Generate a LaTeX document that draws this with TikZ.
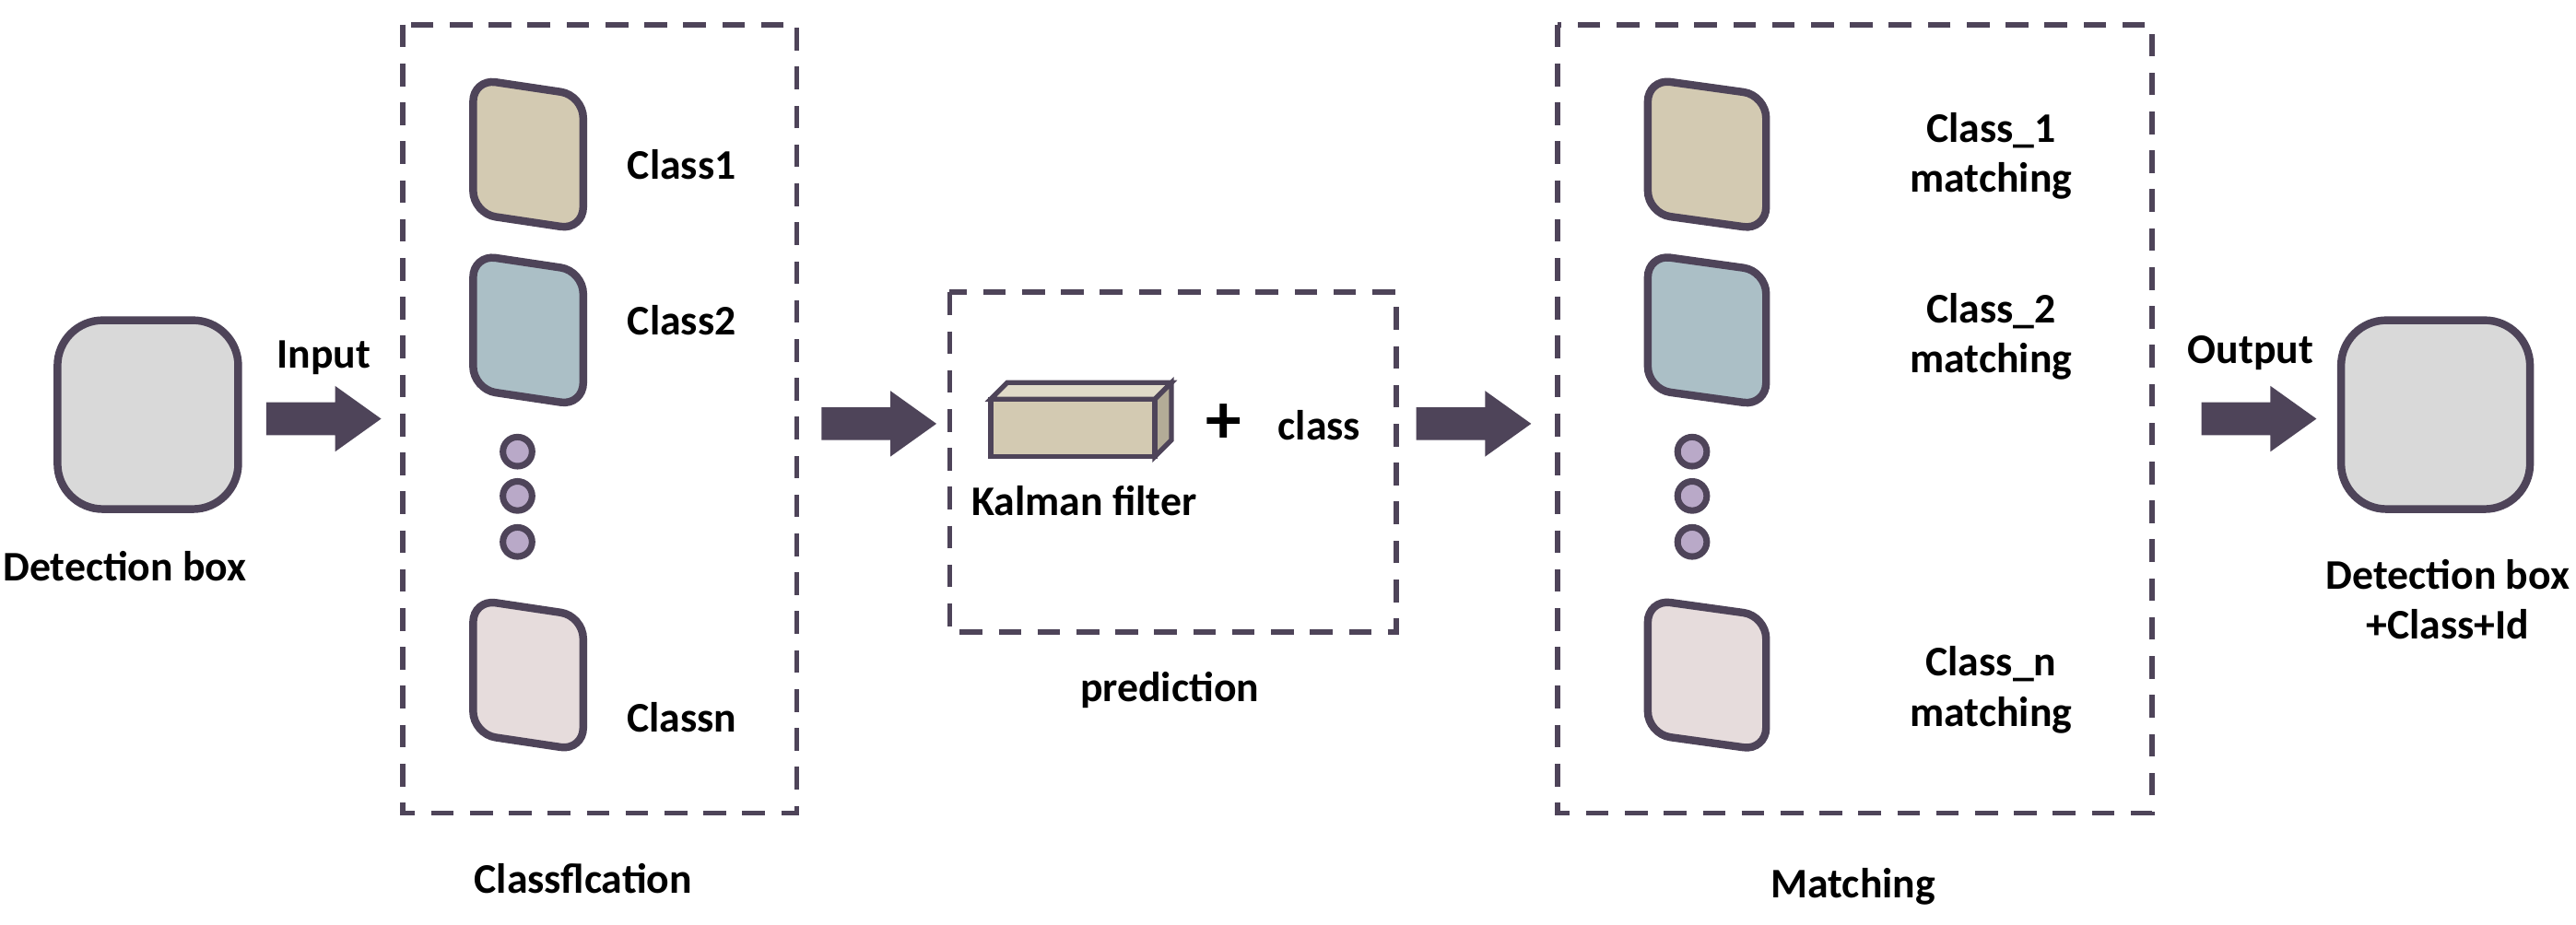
\documentclass[tikz,border=0pt]{standalone}
\usepackage{fontspec}
\setmainfont{Carlito}
\definecolor{bord}{HTML}{4E4459}
\definecolor{cA}{HTML}{D3CAB2}
\definecolor{cB}{HTML}{ABBFC6}
\definecolor{cN}{HTML}{E6DCDC}
\definecolor{gbox}{HTML}{D9D9D9}
\definecolor{dotc}{HTML}{B9A9C8}
\begin{document}
\begin{tikzpicture}[x=0.0178cm,y=-0.0178cm,
  lbl/.style={font=\fontsize{13}{15.5}\selectfont\bfseries,align=center},
  dbox/.style={draw=bord,line width=1.6pt,dash pattern=on 7pt off 5pt},
  tile/.style={draw=bord,line width=2.4pt,rounded corners=7pt},
  dotn/.style={circle,draw=bord,fill=dotc,line width=2pt,minimum size=9pt,inner sep=0pt}]
\useasboundingbox (0,0) rectangle (1568,563);
\tikzset{barrow/.pic={\fill[bord] (0,-10) -- (42,-10) -- (42,-20) -- (70,0) -- (42,20) -- (42,10) -- (0,10) -- cycle;}}
% detection boxes
\draw[tile,fill=gbox,rounded corners=14pt] (35,195) rectangle (145,310);
\node[lbl] (det) at (76,345) {Detection box};
\draw[tile,fill=gbox,rounded corners=14pt] (1425,195) rectangle (1540,310);
\node[lbl] (detout) at (1490,365) {Detection box\\+Class+Id};
% arrows
\pic at (162,255) {barrow};
\node[lbl] (inp) at (197,218) {Input};
\pic at (500,258) {barrow};
\pic at (862,258) {barrow};
\pic at (1340,255) {barrow};
\node[lbl] (outp) at (1370,215) {Output};
% classification
\draw[dbox] (245,15) rectangle (485,495);
\node[lbl] (clsf) at (355,535) {Classflcation};
\foreach \y/\c in {48/cA,155/cB,365/cN}{
  \draw[tile,fill=\c] (288,\y) -- (355,\y+10) -- (355,\y+92) -- (288,\y+82) -- cycle;
  \draw[tile,fill=\c] (1003,\y) -- (1075,\y+10) -- (1075,\y+92) -- (1003,\y+82) -- cycle;
}
\node[lbl] (c1) at (415,100) {Class1};
\node[lbl] (c2) at (415,195) {Class2};
\node[lbl] (cn) at (415,437) {Classn};
\foreach \y in {275,302,330}{
  \node[dotn] at (315,\y) {};
  \node[dotn] at (1030,\y) {};
}
% prediction
\draw[dbox] (578,178) rectangle (850,385);
\node[lbl] (pred) at (712,420) {prediction};
\draw[draw=bord,line width=1.5pt,fill=cA!70!white] (603,243) -- (613,233) -- (713,233) -- (703,243) -- cycle;
\draw[draw=bord,line width=1.5pt,fill=cA!85!black] (703,243) -- (713,233) -- (713,268) -- (703,278) -- cycle;
\draw[draw=bord,line width=1.5pt,fill=cA] (603,243) rectangle (703,278);
\node[lbl] (kal) at (660,305) {Kalman filter};
\node[font=\fontsize{22}{22}\selectfont\bfseries] (plus) at (745,258) {+};
\node[lbl] (cls) at (803,259) {class};
% matching
\draw[dbox] (948,15) rectangle (1310,495);
\node[lbl] (mt) at (1128,540) {Matching};
\node[lbl] (m1) at (1212,95) {Class\_1\\matching};
\node[lbl] (m2) at (1212,205) {Class\_2\\matching};
\node[lbl] (mn) at (1212,420) {Class\_n\\matching};
\end{tikzpicture}
\end{document}
